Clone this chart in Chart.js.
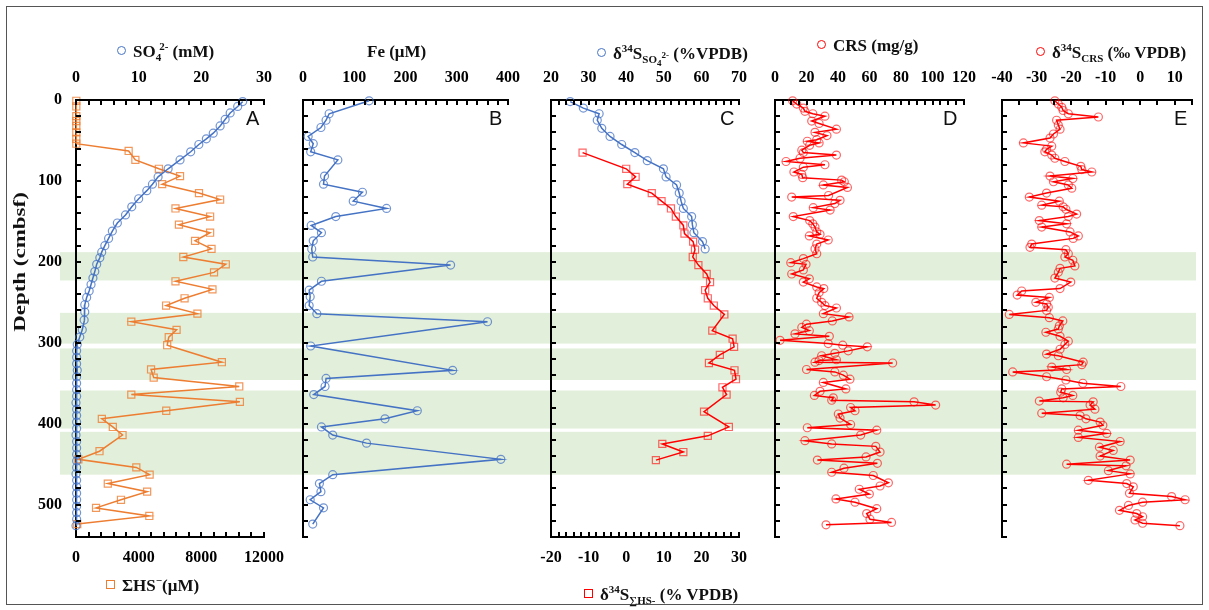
<!DOCTYPE html>
<html>
<head>
<meta charset="utf-8">
<script src="https://cdn.jsdelivr.net/npm/chart.js@4.4.1/dist/chart.umd.min.js"></script>
<style>
body { margin: 0; background: #fff; width: 1209px; height: 610px; overflow: hidden; position: relative; font-family: "Liberation Serif", serif; }
.frame { position: absolute; left: 6px; top: 6px; width: 1195px; height: 597px; border: 1px solid #555; }
canvas { position: absolute; top: 0; }
.lbl { position: absolute; font-weight: bold; font-size: 17px; white-space: nowrap; color: #111; line-height: 20px; }
.lbl sub, .lbl sup { font-size: 11px; }
.mk { display: inline-block; width: 7px; height: 7px; border: 1px solid; margin-right: 7px; vertical-align: 2px; }
.circ { border-radius: 50%; }
.letter { position: absolute; font-family: "Liberation Sans", sans-serif; font-size: 20px; color: #111; }
</style>
</head>
<body>
<div class="frame"></div>
<canvas id="cA" width="290" height="610" style="left:0px"></canvas>
<canvas id="cB" width="240" height="610" style="left:290px"></canvas>
<canvas id="cC" width="230" height="610" style="left:530px"></canvas>
<canvas id="cD" width="225" height="610" style="left:760px"></canvas>
<canvas id="cE" width="224" height="610" style="left:985px"></canvas>

<div class="lbl" style="left:117px;top:36px"><span class="mk circ" style="border-color:#4472C4"></span>SO<sub>4</sub><sup style="margin-left:-2px">2-</sup> (mM)</div>
<div class="lbl" style="left:106px;top:570px"><span class="mk" style="border-color:#ED7D31"></span>ΣHS<sup>−</sup>(μM)</div>
<div class="lbl" style="left:367px;top:42px">Fe (μM)</div>
<div class="lbl" style="left:597px;top:38px"><span class="mk circ" style="border-color:#4472C4"></span>δ<sup>34</sup>S<sub>SO<sub style="font-size:9px">4</sub><sup style="font-size:9px">2-</sup></sub> (%VPDB)</div>
<div class="lbl" style="left:584px;top:579px"><span class="mk" style="border-color:#FF0000"></span>δ<sup>34</sup>S<sub>∑HS-</sub> (% VPDB)</div>
<div class="lbl" style="left:817px;top:36px"><span class="mk circ" style="border-color:#FF0000"></span>CRS (mg/g)</div>
<div class="lbl" style="left:1036px;top:37px"><span class="mk circ" style="border-color:#FF0000"></span>δ<sup>34</sup>S<sub>CRS</sub> (‰ VPDB)</div>
<div class="lbl" style="left:-80px;top:252px;width:200px;text-align:center;transform:rotate(-90deg) scaleX(1.35)">Depth (cmbsf)</div>

<div class="letter" style="left:246px;top:107px">A</div>
<div class="letter" style="left:489px;top:107px">B</div>
<div class="letter" style="left:720px;top:107px">C</div>
<div class="letter" style="left:943px;top:107px">D</div>
<div class="letter" style="left:1174px;top:107px">E</div>

<script>
// depth (cmbsf) for each profile, and the measured values
const depthSO4 = [2,8,16,24,32,41,48,55,64,74,85,95,104,112,122,132,142,152,162,171,180,188,195,203,212,220,228,236,244,253,262,272,284,293,302,
  310,318,326,334,342,350,358,366,374,382,390,398,406,414,422,430,438,446,454,462,470,478,486,494,502,510,518,526];
const so4 = [26.6,25.8,24.6,23.8,23.0,21.9,20.8,19.6,18.3,16.6,14.7,13.1,12.2,11.3,10.0,8.9,7.9,6.6,5.8,5.2,4.6,4.1,3.8,3.3,3.0,2.7,2.4,2.1,1.7,1.4,1.4,1.3,1.0,0.6,0.2,
  0.1,0.1,0.1,0.2,0.1,0.1,0.1,0.1,0.0,0.1,0.1,0.1,0.1,0.0,0.1,0.1,0.1,0.1,0.1,0.0,0.1,0.1,0.1,0.1,0.1,0.1,0.1,0.0];

const depthHS = [1,8,20,26,32,40,48,54,63,74,85,94,104,115,123,134,144,154,164,174,184,194,203,213,224,234,245,254,264,274,284,293,303,
  324,333,343,354,364,373,384,394,404,414,434,444,454,463,474,484,494,504,514,524];
const hs = [20,20,20,20,20,20,20,20,3360,3790,5290,6640,5500,7850,9200,6350,8560,6570,8560,7600,8650,6850,9560,8810,6350,8710,6930,5750,7750,3530,6420,5920,5820,
  9310,4790,4960,10420,3530,10460,5760,1650,2350,2970,1500,150,3850,4700,2030,4540,2870,1280,4680,80];

const depthFe = [1,17,25,34,45,54,64,74,94,104,114,125,134,144,155,164,174,184,194,204,224,235,243,254,264,274,304,334,344,354,364,384,394,404,414,424,444,463,474,484,494,504,524];
const fe = [129,51,45,35,10,20,15,68,42,40,116,98,163,64,16,36,20,17,19,288,36,12,14,12,27,360,15,292,45,43,21,223,160,36,58,124,386,58,32,35,14,40,19];

const depthD34SO4 = [2,10,17,25,35,45,55,65,75,85,95,105,115,125,134,144,154,164,175,184];
const d34SO4 = [25.1,28.6,32.8,32.3,33.5,35.7,38.8,42.3,45.6,49.9,50.6,53.4,54.1,54.6,55.2,57.4,57.6,58.0,60.3,61.0];

const depthD34HS = [65,85,95,104,115,125,134,144,155,165,175,185,194,204,215,225,235,245,254,265,285,295,305,315,325,334,345,355,364,385,404,415,425,435,445];
const d34HS = [-11.6,0.0,2.5,0.3,6.8,9.4,11.9,13.2,15.2,15.5,17.8,18.3,17.7,19.2,21.4,22.3,21.0,21.7,23.3,26.1,22.9,28.3,28.7,24.9,22.0,28.8,29.2,25.6,26.7,20.7,27.3,21.7,9.6,15.2,7.9];

const depthCRS = [1,5,10,14,17,20,26,29,36,40,44,49,51,53,56,62,65,68,72,76,80,83,89,92,96,99,101,105,108,118,120,124,128,133,136,144,149,153,157,163,166,168,173,178,184,190,196,201,203,210,215,221,225,231,233,238,245,250,
  254,257,264,268,273,277,281,285,289,292,297,301,303,305,310,313,316,321,322,324,325,333,336,340,345,349,357,360,365,368,371,373,377,380,384,388,393,401,405,408,414,421,425,428,435,441,445,449,455,460,464,473,477,481,487,493,497,505,511,518,522,525];
const crs = [11.2,13.8,18,19,24,31.7,23.3,28,39,25.4,33,26.5,20.5,28,22,17,18,39,15.9,7,31.7,18,12,17,17.6,42.3,44,30.7,46,34,10.6,41.3,38,24.3,35,11.6,22,24,25.4,26.5,28.6,21.8,33.8,26.5,25.4,26.5,18,10,19.7,18,10.6,21.8,18,26.5,31,28,26.5,29.6,
  31.7,39,30.7,47,36.4,20,17,21.8,12.7,34.5,3.2,33.8,43,58.6,46.5,38,29.6,39,28,25.4,74.7,20,38,43.4,47.6,30.7,45,28.6,25,37,36,88.3,102,48,50.8,40.2,41.3,48,20.5,64.6,54.4,19,36,64,66.7,57.8,26.9,65,43.8,36,62.4,72,66.7,53.5,59.9,38.7,50.8,64.6,58.2,60.3,74,32.4];

const depthD34CRS = [1,5,9,13,17,21,25,31,36,42,47,53,57,61,64,68,72,76,82,86,89,94,97,101,105,109,115,120,125,130,132,135,141,144,149,153,157,163,168,171,178,182,185,190,194,198,205,208,213,220,225,233,236,241,244,250,252,256,
  260,265,269,273,279,283,287,292,298,302,308,314,316,324,327,330,333,336,342,346,350,354,357,361,365,368,372,373,377,382,387,390,394,398,402,408,412,417,422,429,433,440,445,450,452,458,462,470,474,478,486,490,494,497,501,507,511,515,519,523,526];
const d34CRS = [-24.7,-23.7,-22.7,-22.3,-20.8,-12.1,-24.2,-23.7,-23.2,-25.1,-26.1,-33.8,-25.6,-27.1,-27.6,-25.6,-24.7,-21.8,-17.2,-16.9,-14.0,-26.1,-19.5,-25.1,-20.8,-19.8,-27.1,-32.1,-23.4,-28.5,-22.3,-21.5,-18.4,-20.8,-29.2,-21.3,-28.5,-20.3,-17.9,-19.4,-31.4,-31.9,-21.5,-20.8,-21.8,-19.5,-18.9,-23.2,-23.7,-24.7,-20.1,-23.2,-34.3,-35.6,-26.3,-30.2,-27.1,-26.6,
  -27.1,-37.9,-26.3,-22.4,-23.4,-23.7,-27.3,-23.2,-20.8,-21.8,-23.2,-27.1,-23.7,-16.5,-16.9,-25.6,-21.3,-36.9,-27.1,-21.5,-16.6,-5.6,-22.7,-23.0,-19.5,-22.3,-29.2,-13.6,-14.5,-13.1,-28.5,-17.4,-15.7,-11.6,-10.8,-17.9,-9.7,-17.9,-5.8,-11.8,-7.8,-11.6,-2.9,-21.3,-4.1,-9.2,-2.9,-15.0,-3.9,-2.0,-3.1,9.1,13.0,0.7,-3.4,-6.0,-1.0,0.7,-1.5,0.7,11.5];

// shaded depth intervals
const bands = [[188,223],[263,301],[307,346],[359,406],[410,463]];

// tick labels
const depthTicks = [0,100,200,300,400,500];
const so4Ticks = [0,10,20,30];
const hsTicks = [0,4000,8000,12000];
const feTicks = [0,100,200,300,400];
const d34SO4Ticks = [20,30,40,50,60,70];
const d34HSTicks = [-20,-10,0,10,20,30];
const crsTicks = [0,20,40,60,80,100,120];
const d34CRSTicks = [-40,-30,-20,-10,0,10];

const BLUE = '#4472C4', ORANGE = '#ED7D31', RED = '#FF0000';
const tickFont = { family: 'Liberation Serif', size: 16, weight: 'bold' };

const bandPlugin = {
  id: 'bands',
  beforeDraw(chart, args, opts) {
    const ctx = chart.ctx, y = chart.scales.y;
    const x1 = opts.x1 == null ? chart.width : opts.x1;
    ctx.save();
    ctx.fillStyle = '#E2EFDA';
    bands.forEach(b => {
      const t = y.getPixelForValue(b[0]), btm = y.getPixelForValue(b[1]);
      ctx.fillRect(opts.x0, t, x1 - opts.x0, btm - t);
    });
    ctx.restore();
  }
};

// small tick marks pointing into the plot
const inTicks = {
  id: 'inTicks',
  afterDraw(chart, args, opts) {
    const ctx = chart.ctx;
    ctx.save();
    ctx.strokeStyle = '#000';
    ctx.lineWidth = 2;
    Object.keys(opts).forEach(id => {
      const s = chart.scales[id];
      const step = opts[id];
      if (!s || typeof step !== 'number') return;
      const n = Math.round((s.max - s.min) / step);
      for (let i = 0; i <= n; i++) {
        const p = Math.round(s.getPixelForValue(s.min + i * step));
        ctx.beginPath();
        if (s.position === 'top') { ctx.moveTo(p, s.bottom); ctx.lineTo(p, s.bottom + 5); }
        else if (s.position === 'bottom') { ctx.moveTo(p, s.top); ctx.lineTo(p, s.top - 5); }
        else { ctx.moveTo(s.right, p); ctx.lineTo(s.right + 5, p); }
        ctx.stroke();
      }
    });
    ctx.restore();
  }
};

function series(depths, vals, color, mark, style, axis) {
  return {
    data: depths.map((d, i) => ({ x: vals[i], y: d })),
    showLine: true,
    borderColor: color,
    borderWidth: 1.5,
    pointStyle: style,
    pointRadius: style === 'rect' ? 5 : 4,
    pointBorderColor: mark,
    pointBackgroundColor: 'rgba(0,0,0,0)',
    pointBorderWidth: 1.2,
    xAxisID: axis,
    clip: false
  };
}

function xScale(pos, min, max, labels) {
  return {
    type: 'linear', position: pos, min: min, max: max,
    grid: { display: false, drawTicks: false },
    border: { color: '#000', width: 2 },
    ticks: { font: tickFont, color: '#000', padding: pos === 'top' ? 13 : 11, maxRotation: 0, autoSkip: false,
             callback: v => String(v) },
    afterBuildTicks: s => { s.ticks = labels.map(v => ({ value: v })); },
    afterFit: s => { s.height = 40; s.paddingLeft = 0; s.paddingRight = 0; }
  };
}

function yScale(showLabels) {
  return {
    type: 'linear', min: 0, max: 540, reverse: true,
    grid: { display: false, drawTicks: false },
    border: { color: '#000', width: 2 },
    ticks: { display: showLabels, font: tickFont, color: '#000', padding: 14, callback: v => String(v) },
    afterBuildTicks: s => { s.ticks = depthTicks.map(v => ({ value: v })); },
    afterFit: s => { s.width = showLabels ? 40 : 0; s.paddingTop = 0; s.paddingBottom = 0; }
  };
}

function makeChart(id, datasets, scales, pad, bandOpts, tickOpts) {
  return new Chart(document.getElementById(id), {
    type: 'scatter',
    data: { datasets: datasets },
    options: {
      responsive: false,
      animation: false,
      layout: { padding: pad },
      plugins: { legend: { display: false }, tooltip: { enabled: false }, bands: bandOpts, inTicks: tickOpts },
      scales: scales
    },
    plugins: [bandPlugin, inTicks]
  });
}

makeChart('cA',
  [series(depthSO4, so4, BLUE, 'rgba(68,114,196,0.75)', 'circle', 'x'),
   series(depthHS, hs, ORANGE, 'rgba(237,125,49,0.8)', 'rect', 'x2')],
  { x: xScale('top', 0, 30, so4Ticks), x2: xScale('bottom', 0, 12000, hsTicks), y: yScale(true) },
  { left: 36, right: 26, top: 60, bottom: 33 },
  { x0: 60 }, { x: 2, x2: 800, y: 20 });

makeChart('cB',
  [series(depthFe, fe, BLUE, 'rgba(68,114,196,0.75)', 'circle', 'x')],
  { x: xScale('top', 0, 400, feTicks), y: yScale(false) },
  { left: 13, right: 22, top: 60, bottom: 73 },
  { x0: 0 }, { x: 20, y: 20 });

makeChart('cC',
  [series(depthD34SO4, d34SO4, BLUE, 'rgba(68,114,196,0.75)', 'circle', 'x'),
   series(depthD34HS, d34HS, RED, 'rgba(255,0,0,0.6)', 'rect', 'x2')],
  { x: xScale('top', 20, 70, d34SO4Ticks), x2: xScale('bottom', -20, 30, d34HSTicks), y: yScale(false) },
  { left: 21, right: 21, top: 60, bottom: 33 },
  { x0: 0 }, { x: 2, x2: 2, y: 20 });

makeChart('cD',
  [series(depthCRS, crs, RED, 'rgba(255,0,0,0.6)', 'circle', 'x')],
  { x: xScale('top', 0, 120, crsTicks), y: yScale(false) },
  { left: 15, right: 21, top: 60, bottom: 73 },
  { x0: 0 }, { x: 5, y: 20 });

makeChart('cE',
  [series(depthD34CRS, d34CRS, RED, 'rgba(255,0,0,0.6)', 'circle', 'x')],
  { x: xScale('top', -40, 15, d34CRSTicks), y: yScale(false) },
  { left: 17, right: 17, top: 60, bottom: 73 },
  { x0: 0, x1: 211 }, { x: 5, y: 20 });
</script>
</body>
</html>
